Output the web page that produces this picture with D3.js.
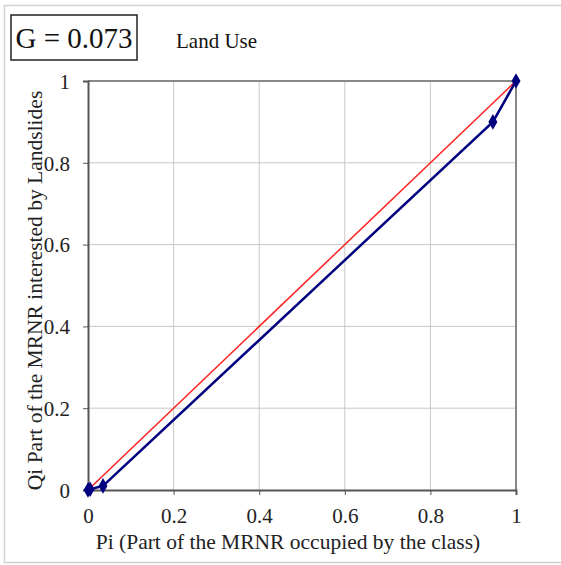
<!DOCTYPE html>
<html>
<head>
<meta charset="utf-8">
<script src="https://cdn.jsdelivr.net/npm/d3@7"></script>
<style>
  body { margin: 0; background: #fff; }
  svg { display: block; }
  svg text { font-family: "Liberation Serif", "Times New Roman", serif; }
</style>
</head>
<body>
<div id="chart"></div>
<script>
// Lorenz-type curve data
const piValues = [0, 0.005, 0.035, 0.946, 1];
const qiValues = [0, 0.002, 0.01, 0.9, 1];
const diagonal = [[0, 0], [1, 1]];
const tickValues = [0, 0.2, 0.4, 0.6, 0.8, 1];
const giniLabel = 'G = 0.073';
const titleLabel = 'Land Use';

const W = 561, H = 565;
const margin = { top: 81, right: 45, bottom: 75, left: 88 };
const width = W - margin.left - margin.right;
const height = H - margin.top - margin.bottom;

const svg = d3.select('#chart').append('svg').attr('width', W).attr('height', H);

// outer frame
svg.append('rect').attr('x', 4.5).attr('y', 5.5).attr('width', W + 10).attr('height', 557)
    .attr('fill', 'none').attr('stroke', '#d0d0d0').attr('stroke-width', 1.5);

// G box + title
svg.append('rect').attr('x', 11).attr('y', 15).attr('width', 126).attr('height', 45)
    .attr('fill', '#fff').attr('stroke', '#222').attr('stroke-width', 1.5);
svg.append('text').attr('x', 74).attr('y', 48).attr('text-anchor', 'middle')
    .attr('font-family', '"Liberation Serif", serif')
    .style('font-size', '29px').style('fill', '#111').text(giniLabel);
svg.append('text').attr('x', 176).attr('y', 48)
    .style('font-size', '21px').style('fill', '#111').text(titleLabel);

const g = svg.append('g').attr('transform', `translate(${margin.left},${margin.top})`);

const x = d3.scaleLinear().domain([0, 1]).range([0, width]);
const y = d3.scaleLinear().domain([0, 1]).range([height, 0]);

// gridlines
g.append('g').selectAll('line').data(tickValues.filter(d => d > 0 && d < 1)).join('line')
    .attr('x1', d => x(d)).attr('x2', d => x(d)).attr('y1', 0).attr('y2', height)
    .attr('stroke', '#c8c8c8').attr('stroke-width', 1);
g.append('g').selectAll('line').data(tickValues.filter(d => d > 0 && d < 1)).join('line')
    .attr('y1', d => y(d)).attr('y2', d => y(d)).attr('x1', 0).attr('x2', width)
    .attr('stroke', '#c8c8c8').attr('stroke-width', 1);

// plot border top/right
g.append('line').attr('x1', 0).attr('x2', width).attr('y1', y(1)).attr('y2', y(1))
    .attr('stroke', '#888').attr('stroke-width', 2);
g.append('line').attr('x1', x(1)).attr('x2', x(1)).attr('y1', 0).attr('y2', height)
    .attr('stroke', '#888').attr('stroke-width', 2);

// axes
const xAxis = g.append('g').attr('transform', `translate(0,${height})`)
    .call(d3.axisBottom(x).tickValues(tickValues).tickFormat(d3.format('~g')).tickSize(5));
const yAxis = g.append('g')
    .call(d3.axisLeft(y).tickValues(tickValues).tickFormat(d3.format('~g')).tickSize(5));
[xAxis, yAxis].forEach(a => {
    a.attr('font-family', null).attr('font-size', null);
    a.select('.domain').attr('stroke', '#555').attr('stroke-width', 2);
    a.selectAll('.tick line').attr('stroke', '#555');
    a.selectAll('text').style('font-size', '21px').style('fill', '#222');
});
xAxis.selectAll('text').attr('y', 33).attr('dy', 0);
yAxis.selectAll('text').attr('x', -18).attr('dy', '0.35em');

// axis labels
g.append('text').attr('x', width / 2 - 14).attr('y', height + 59).attr('text-anchor', 'middle')
    .style('font-size', '21.5px').style('fill', '#222').text('Pi (Part of the MRNR occupied by the class)');
g.append('text').attr('transform', 'rotate(-90)').attr('x', -height / 2 - 5).attr('y', -46)
    .attr('text-anchor', 'middle').style('font-size', '21.5px').style('fill', '#222')
    .text('Qi Part of the MRNR interested by Landslides');

// equality line
g.append('path').datum(diagonal)
    .attr('d', d3.line().x(d => x(d[0])).y(d => y(d[1])))
    .attr('fill', 'none').attr('stroke', '#ff2020').attr('stroke-width', 1.5);

// curve
const pts = piValues.map((p, i) => [p, qiValues[i]]);
g.append('path').datum(pts)
    .attr('d', d3.line().x(d => x(d[0])).y(d => y(d[1])))
    .attr('fill', 'none').attr('stroke', '#00007f').attr('stroke-width', 2.5);
g.selectAll('.marker').data(pts).join('path').attr('class', 'marker')
    .attr('transform', d => `translate(${x(d[0])},${y(d[1])})`)
    .attr('d', d3.symbol(d3.symbolDiamond, 70))
    .attr('fill', '#00007f');
</script>
</body>
</html>
